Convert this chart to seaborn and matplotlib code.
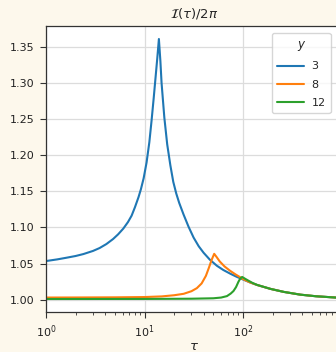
import matplotlib
matplotlib.use("Agg")
import matplotlib.pyplot as plt
import matplotlib.ticker as mticker
import pandas as pd
import seaborn as sns

# tau samples and I(tau)/2pi for each y
tau_y3 = [1.0, 1.3, 1.6, 2.0, 2.4, 3.0, 3.5, 4.1, 4.8, 5.4, 6.1, 6.8, 7.4,
          8.0, 8.7, 9.2, 9.8, 10.5, 11.2, 11.8, 12.4, 12.9, 13.5, 14.0, 14.5,
          14.9, 15.9, 17.0, 18.3, 19.6, 21.0, 22.5, 24.9, 28.0, 31.5, 35.5,
          39.8, 46.0, 54.3, 63.0, 74.3, 86.0, 100.0, 118.6, 139.0, 190.0,
          260.0, 383.0, 550.0, 874.0, 1000.0]
val_y3 = [1.0535, 1.0558, 1.0580, 1.0605, 1.0632, 1.0675, 1.0715, 1.0770,
          1.0840, 1.0905, 1.0985, 1.1075, 1.1163, 1.1280, 1.1420, 1.1530,
          1.1680, 1.1900, 1.2180, 1.2480, 1.2790, 1.3050, 1.3350, 1.3607,
          1.3300, 1.3000, 1.2520, 1.2150, 1.1860, 1.1630, 1.1470, 1.1340,
          1.1180, 1.1010, 1.0860, 1.0740, 1.0650, 1.0555, 1.0470, 1.0412,
          1.0360, 1.0318, 1.0280, 1.0238, 1.0204, 1.0150, 1.0108, 1.0070,
          1.0048, 1.0030, 1.0027]

tau_y8 = [1.0, 2.0, 5.0, 10.0, 15.0, 20.0, 25.0, 30.0, 34.0, 38.0, 42.0, 45.0,
          48.0, 51.0, 54.0, 58.0, 65.0, 74.0, 84.0, 94.0, 100.0, 118.6, 139.0,
          190.0, 260.0, 383.0, 550.0, 874.0, 1000.0]
val_y8 = [1.0030, 1.0031, 1.0033, 1.0037, 1.0046, 1.0062, 1.0082, 1.0118,
          1.0160, 1.0225, 1.0330, 1.0440, 1.0550, 1.0635, 1.0590, 1.0530,
          1.0460, 1.0400, 1.0350, 1.0310, 1.0285, 1.0238, 1.0204, 1.0150,
          1.0108, 1.0070, 1.0048, 1.0030, 1.0027]

tau_y12 = [1.0, 10.0, 30.0, 50.0, 60.0, 68.7, 75.0, 80.0, 85.0, 90.0, 94.0,
           98.0, 105.0, 112.0, 125.0, 139.0, 190.0, 260.0, 383.0, 550.0,
           874.0, 1000.0]
val_y12 = [1.0010, 1.0011, 1.0014, 1.0020, 1.0030, 1.0050, 1.0085, 1.0120,
           1.0175, 1.0250, 1.0295, 1.0315, 1.0290, 1.0268, 1.0232, 1.0205,
           1.0150, 1.0108, 1.0070, 1.0048, 1.0030, 1.0027]

y_labels = ["3", "8", "12"]
colors = ["#1f77b4", "#ff7f0e", "#2ca02c"]
x_ticks = [1, 10, 100]
y_ticks = [1.00, 1.05, 1.10, 1.15, 1.20, 1.25, 1.30, 1.35]

frames = []
for lab, t, v in zip(y_labels, [tau_y3, tau_y8, tau_y12], [val_y3, val_y8, val_y12]):
    frames.append(pd.DataFrame({"tau": t, "I": v, "y": lab}))
df = pd.concat(frames, ignore_index=True)

sns.set_style("ticks")
plt.rcParams["font.family"] = ["DejaVu Sans"]
plt.rcParams["font.size"] = 8
plt.rcParams["mathtext.fontset"] = "dejavusans"

fig = plt.figure(figsize=(3.36, 3.52), dpi=100, facecolor="#fdf8ec")
ax = fig.add_axes([46 / 336, 40 / 352, 295.5 / 336, 286 / 352])
ax.set_facecolor("white")

sns.lineplot(data=df, x="tau", y="I", hue="y", hue_order=y_labels,
             palette=colors, linewidth=1.5, ax=ax, sort=False,
             estimator=None)

ax.set_xscale("log")
ax.set_xlim(1, 1000)
ax.set_xticks(x_ticks)
ax.xaxis.set_minor_locator(mticker.LogLocator(base=10, subs=range(2, 10)))
ax.xaxis.set_minor_formatter(mticker.NullFormatter())
ax.set_yticks(y_ticks)
ax.yaxis.set_major_formatter(mticker.FormatStrFormatter("%.2f"))
ax.grid(True, which="major", color="#dcdcdc", linewidth=0.9)
ax.set_axisbelow(True)
for s in ax.spines.values():
    s.set_color("#333333")
    s.set_linewidth(0.9)
ax.tick_params(axis="both", which="major", labelsize=8, length=4.5,
               color="#333333", labelcolor="#222222")
ax.tick_params(axis="x", which="minor", length=2.5, color="#333333")

ax.set_title(r"$\mathcal{I}(\tau)/2\pi$", fontsize=9.5, pad=6)
ax.set_xlabel(r"$\tau$", fontsize=9.5, labelpad=0)
ax.set_ylabel("")

leg = ax.legend(title=r"$y$", loc="upper right",
                bbox_to_anchor=(0.984, 0.906), bbox_transform=fig.transFigure,
                borderaxespad=0, fontsize=8, title_fontsize=8.5,
                handlelength=2.4, handletextpad=0.7, labelspacing=0.75,
                borderpad=0.45, frameon=True)
leg.get_frame().set_edgecolor("#cccccc")

fig.savefig("out.png", dpi=100, facecolor=fig.get_facecolor())
